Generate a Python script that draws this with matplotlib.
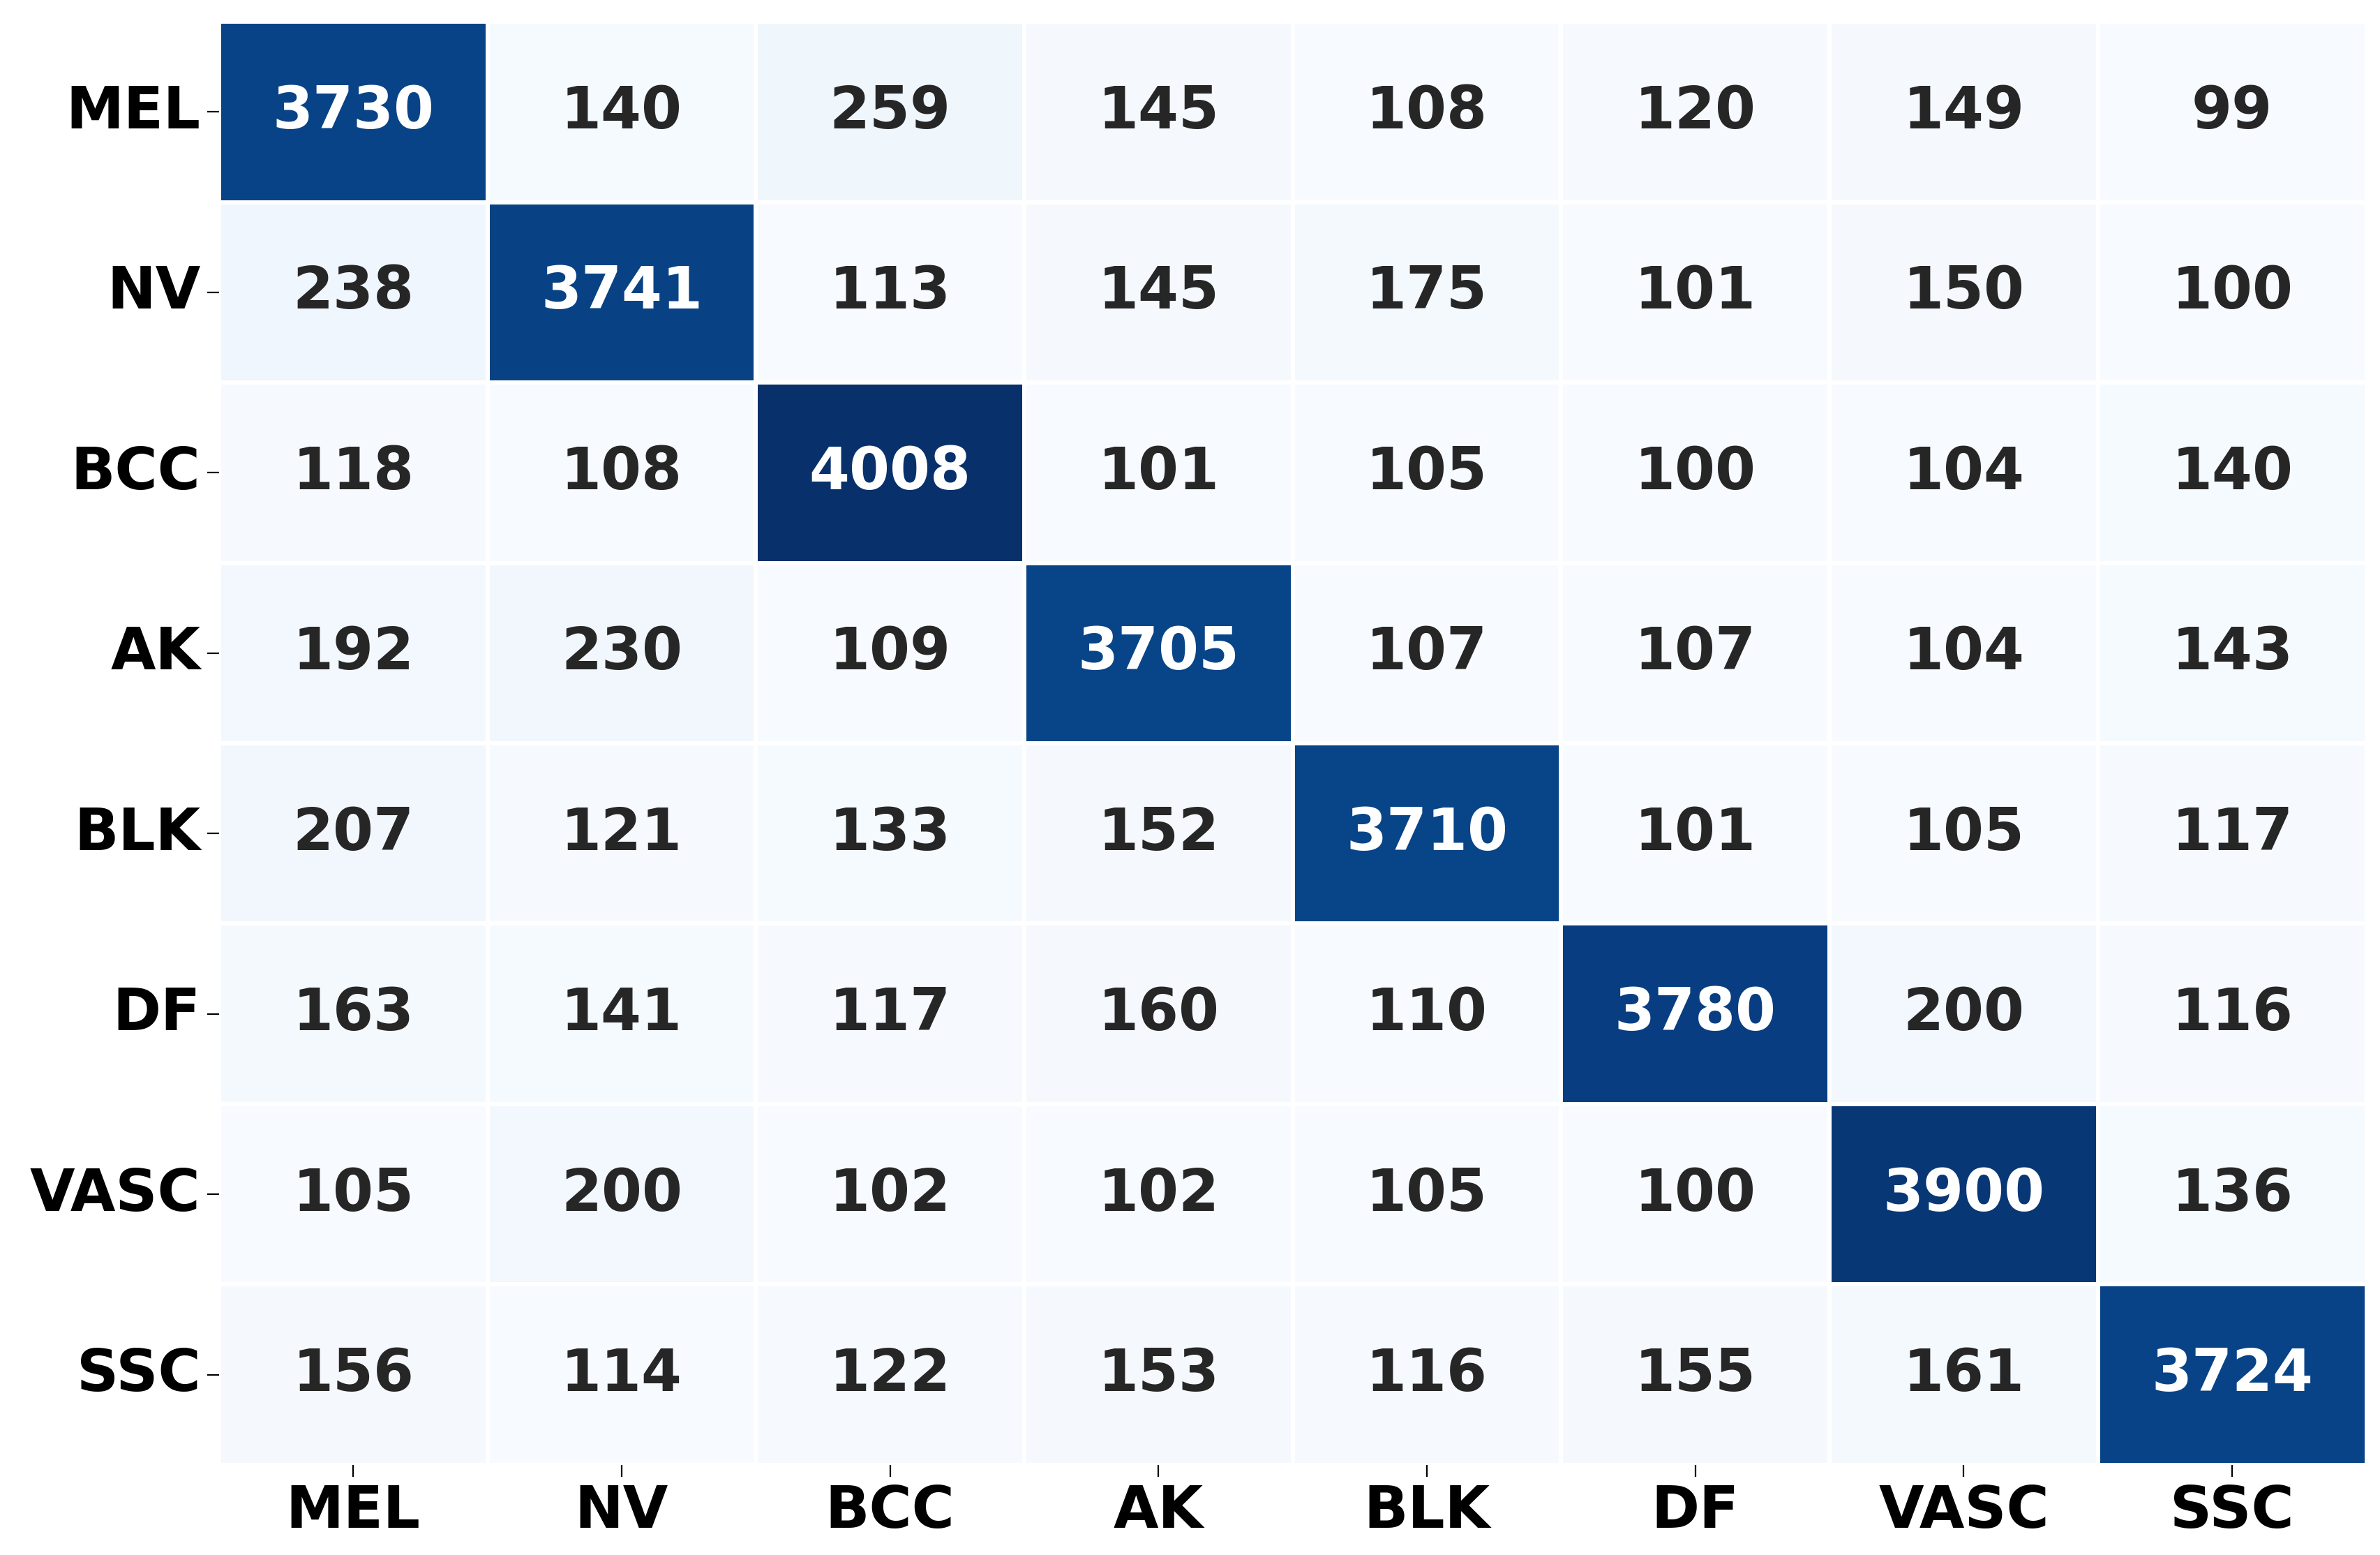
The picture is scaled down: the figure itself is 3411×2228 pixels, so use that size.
import matplotlib
matplotlib.use("Agg")
import matplotlib.pyplot as plt
import seaborn as sns
import numpy as np

classes = ["MEL", "NV", "BCC", "AK", "BLK", "DF", "VASC", "SSC"]
row_mel = [3730, 140, 259, 145, 108, 120, 149, 99]
row_nv = [238, 3741, 113, 145, 175, 101, 150, 100]
row_bcc = [118, 108, 4008, 101, 105, 100, 104, 140]
row_ak = [192, 230, 109, 3705, 107, 107, 104, 143]
row_blk = [207, 121, 133, 152, 3710, 101, 105, 117]
row_df = [163, 141, 117, 160, 110, 3780, 200, 116]
row_vasc = [105, 200, 102, 102, 105, 100, 3900, 136]
row_ssc = [156, 114, 122, 153, 116, 155, 161, 3724]

cm = np.array([row_mel, row_nv, row_bcc, row_ak, row_blk, row_df, row_vasc, row_ssc])

fig = plt.figure(figsize=(17.06, 11.14), dpi=200)
ax = fig.add_axes([0.092, 0.058, 0.902, 0.928])
sns.heatmap(cm, annot=True, fmt="d", cmap="Blues", cbar=False, linewidths=2,
            linecolor="white", ax=ax,
            annot_kws={"fontsize": 30, "fontweight": "bold"},
            xticklabels=classes, yticklabels=classes)
ax.tick_params(axis="both", labelsize=30, length=6)
for lbl in ax.get_xticklabels() + ax.get_yticklabels():
    lbl.set_fontweight("bold")
plt.setp(ax.get_yticklabels(), rotation=0)
fig.savefig("out.png", dpi=200)
